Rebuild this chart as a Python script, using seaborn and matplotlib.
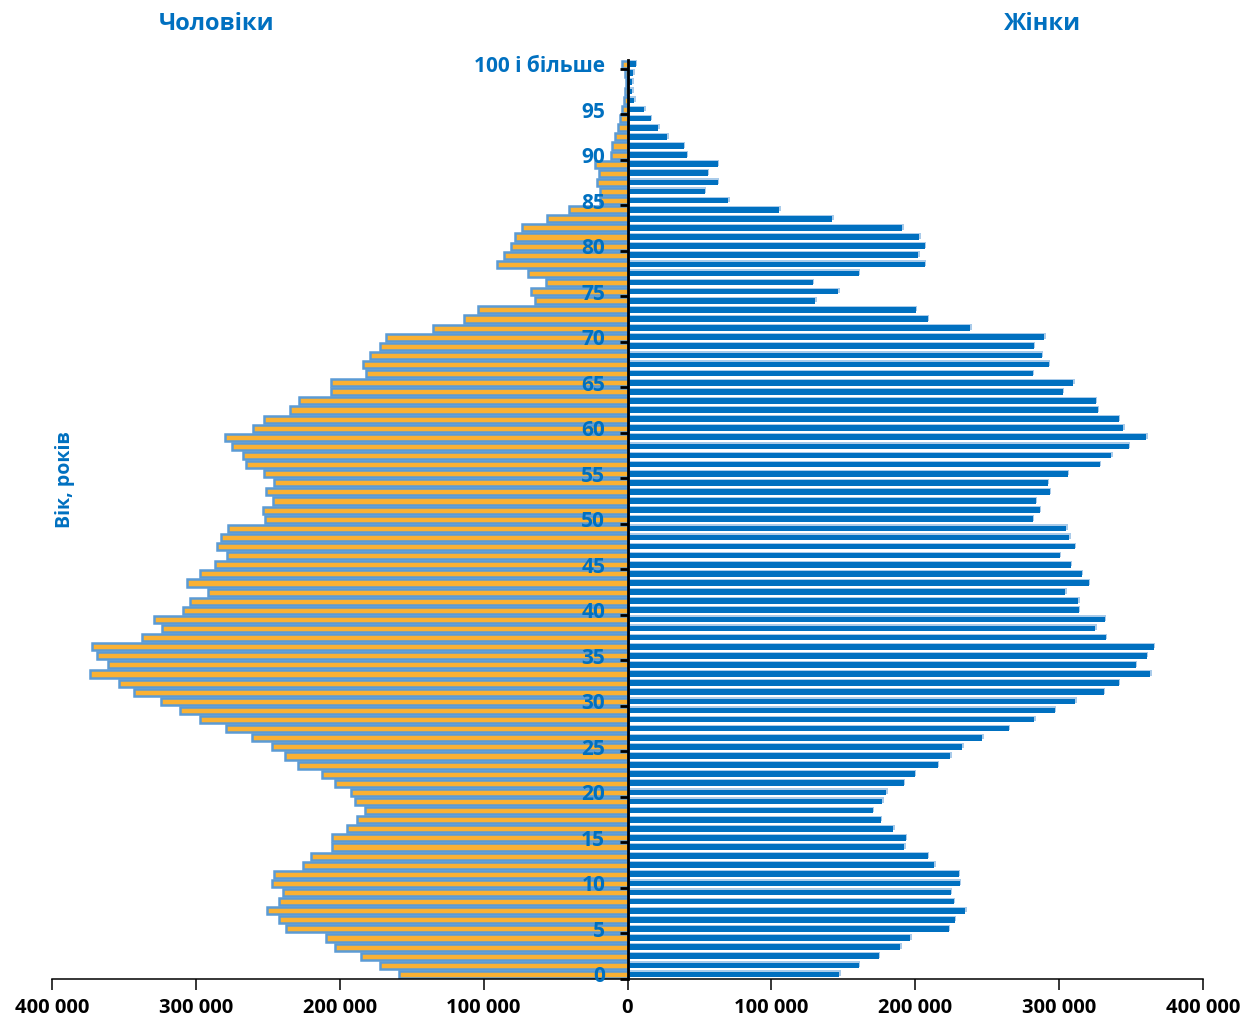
import matplotlib
matplotlib.use("Agg")
import matplotlib.pyplot as plt
import matplotlib.transforms as mtransforms
from matplotlib.ticker import FixedLocator, FuncFormatter
import seaborn as sns

# Single years of age; the last group (100) is "100 and over"
ages = list(range(101))

men = [
    158500, 172100, 185400, 203000, 209900, 237300, 242300, 250600, 242100, 239200,
    246900, 245800, 225800, 220300, 205100, 205100, 195200, 187800, 182200, 189600,
    192300, 203200, 212000, 229000, 238100, 247100, 260700, 278800, 296900, 311300,
    324100, 343000, 353100, 373600, 361100, 368500, 372000, 337600, 323300, 329100,
    308900, 303800, 291300, 306000, 296900, 286800, 278500, 285500, 282300, 277500,
    251900, 253500, 246300, 251400, 245500, 252700, 265000, 267100, 275100, 280100,
    260200, 252700, 234900, 228000, 206100, 206100, 181700, 183500, 179000, 171800,
    167600, 135300, 113500, 103900, 64500, 67200, 56800, 69100, 90600, 85800,
    80800, 77900, 73600, 55800, 40600, 18800, 19300, 21400, 19600, 22500,
    11600, 10800, 8900, 6800, 5200, 3600, 2300, 1500, 1200, 1500,
    3500,
]

women = [
    147100, 160800, 174500, 189700, 196600, 223200, 227400, 234700, 226900, 224600,
    230800, 230200, 213100, 208700, 192200, 193300, 184600, 175900, 170300, 177100,
    179900, 191900, 199700, 215800, 224300, 232700, 246400, 264900, 282800, 297100,
    311300, 330900, 341300, 363400, 353300, 360800, 365900, 332300, 325000, 331700,
    313600, 313300, 304100, 320600, 315800, 308000, 300400, 310800, 307100, 304900,
    281700, 286400, 283900, 293400, 292000, 306000, 328100, 336200, 348300, 360600,
    344600, 341500, 326700, 325300, 302400, 309900, 281700, 292900, 287800, 282500,
    289800, 238300, 208700, 200300, 130600, 146600, 128700, 160800, 206700, 202000,
    206700, 202800, 191000, 142400, 105500, 69900, 53700, 62900, 55900, 62700,
    41100, 39200, 27700, 21500, 16200, 11500, 4800, 3400, 3400, 3900,
    5600,
]

age_tick_pos = list(range(0, 101, 5))
age_tick_labels = [str(a) for a in range(0, 100, 5)] + ["100 і більше"]
x_tick_pos = [-400000, -300000, -200000, -100000, 0, 100000, 200000, 300000, 400000]

title_men = "Чоловіки"
title_women = "Жінки"
age_title = "Вік, років"

BLUE = "#0070C0"
ORANGE = "#FAB133"
EDGE = "#5B9BD5"
SHADOW = "#A9CBEA"

sns.set_theme(style="white")
plt.rcParams["font.family"] = ["Open Sans", "DejaVu Sans"]
plt.rcParams["font.weight"] = "bold"

W, H = 1245, 1019
fig = plt.figure(figsize=(W / 100, H / 100), dpi=100)
ax = fig.add_axes([52 / W, 1 - 979 / H, (1203 - 52) / W, (979 - 59.5) / H])

# Women: a faint offset copy behind the bars, then the bars themselves
sns.barplot(x=women, y=ages, orient="y", native_scale=True, color=SHADOW,
            saturation=1, width=0.62, errorbar=None, linewidth=0, ax=ax)
shift = mtransforms.ScaledTranslation(1.5 / 100, 1.2 / 100, fig.dpi_scale_trans)
for p in ax.patches:
    p.set_transform(ax.transData + shift)

sns.barplot(x=women, y=ages, orient="y", native_scale=True, color=BLUE,
            saturation=1, width=0.62, errorbar=None, linewidth=0, ax=ax)

# Men on the left side
sns.barplot(x=[-v for v in men], y=ages, orient="y", native_scale=True,
            color=ORANGE, saturation=1, width=0.78, errorbar=None,
            edgecolor=EDGE, linewidth=1.8, ax=ax)

for p in ax.patches:
    p.set_zorder(1)

ax.set_xlim(-400000, 400000)
ax.set_ylim(-0.5, 100.5)
ax.set_xlabel("")
ax.set_ylabel("")

for s in ("top", "right"):
    ax.spines[s].set_visible(False)
ax.spines["left"].set_position(("data", 0))
ax.spines["left"].set_color("black")
ax.spines["left"].set_linewidth(2.0)
ax.spines["left"].set_zorder(5)
ax.spines["bottom"].set_color("black")
ax.spines["bottom"].set_linewidth(1.1)
ax.spines["bottom"].set_zorder(5)

# Age axis: labels centred on the bars, tick marks between age groups
ax.yaxis.set_major_locator(FixedLocator(age_tick_pos))
ax.set_yticklabels(age_tick_labels)
ax.yaxis.set_minor_locator(FixedLocator([a - 0.5 for a in age_tick_pos]))
ax.tick_params(axis="y", which="major", length=0, pad=16, labelsize=15,
               labelcolor=BLUE)
ax.tick_params(axis="y", which="minor", left=True, length=6, width=2.0,
               direction="out", color="black")
for lbl in ax.get_yticklabels():
    lbl.set_fontweight("bold")
ax.yaxis.set_zorder(10)

# Population axis with absolute values and space as thousands separator
ax.xaxis.set_major_locator(FixedLocator(x_tick_pos))
ax.xaxis.set_major_formatter(
    FuncFormatter(lambda v, _: f"{abs(int(v)):,}".replace(",", " ")))
ax.tick_params(axis="x", which="major", bottom=True, length=8, width=1.1,
               direction="out", color="black", pad=6, labelsize=14.5,
               labelcolor="black")
for lbl in ax.get_xticklabels():
    lbl.set_fontweight("bold")
ax.xaxis.set_zorder(10)

fig.text(217 / W, 1 - 24 / H, title_men, ha="center", va="center",
         color=BLUE, fontsize=17, fontweight="bold")
fig.text(1043 / W, 1 - 24 / H, title_women, ha="center", va="center",
         color=BLUE, fontsize=17, fontweight="bold")
fig.text(65 / W, 1 - 480 / H, age_title, ha="center", va="center",
         rotation=90, color=BLUE, fontsize=14, fontweight="bold")

fig.savefig("out.png", dpi=100, facecolor="white")
